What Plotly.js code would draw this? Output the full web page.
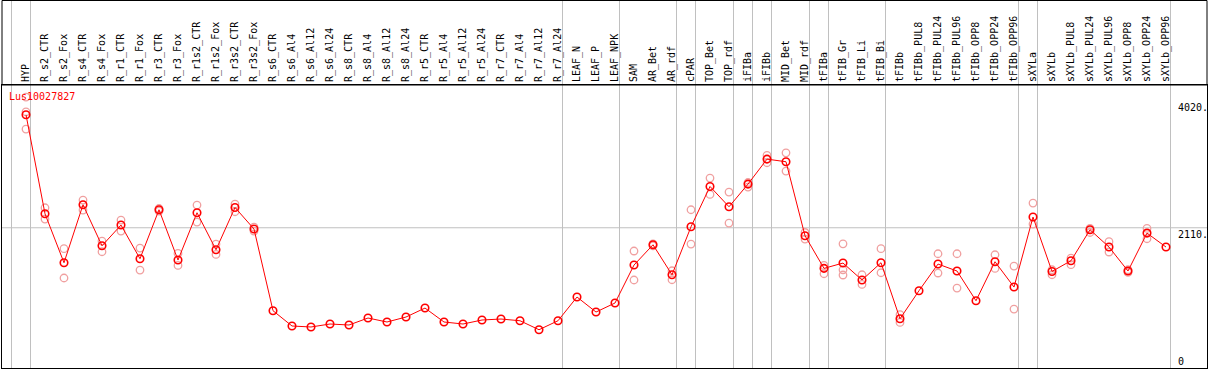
<!DOCTYPE html>
<html>
<head>
<meta charset="utf-8">
<script src="https://cdn.plot.ly/plotly-3.0.1.min.js"></script>
<style>html,body{margin:0;padding:0;background:#fff;}#chart{width:1209px;height:370px;}</style>
</head>
<body>
<div id="chart"></div>
<script>
const categories = ["HYP","R_s2_CTR","R_s2_Fox","R_s4_CTR","R_s4_Fox","R_r1_CTR","R_r1_Fox","R_r3_CTR","R_r3_Fox","R_r1s2_CTR","R_r1s2_Fox","R_r3s2_CTR","R_r3s2_Fox","R_s6_CTR","R_s6_Al4","R_s6_Al12","R_s6_Al24","R_s8_CTR","R_s8_Al4","R_s8_Al12","R_s8_Al24","R_r5_CTR","R_r5_Al4","R_r5_Al12","R_r5_Al24","R_r7_CTR","R_r7_Al4","R_r7_Al12","R_r7_Al24","LEAF_N","LEAF_P","LEAF_NPK","SAM","AR_Bet","AR_rdf","cPAR","TOP_Bet","TOP_rdf","iFIBa","iFIBb","MID_Bet","MID_rdf","tFIBa","tFIB_Gr","tFIB_Li","tFIB_Bi","tFIBb","tFIBb_PUL8","tFIBb_PUL24","tFIBb_PUL96","tFIBb_OPP8","tFIBb_OPP24","tFIBb_OPP96","sXYLa","sXYLb","sXYLb_PUL8","sXYLb_PUL24","sXYLb_PUL96","sXYLb_OPP8","sXYLb_OPP24","sXYLb_OPP96"];

const meanValues = [3810,2320,1584,2456,1839,2151,1644,2381,1624,2336,1779,2415,2091,862,632,617,662,647,752,692,767,902,692,662,722,737,711,576,711,1068,842,978,1549,1854,1403,2125,2731,2426,2767,3143,3103,1990,1499,1579,1324,1584,741,1163,1564,1459,1012,1599,1218,2271,1453,1614,2080,1820,1459,2030,1820];

const rep1 = [4076,2411,1795,2527,1910,2226,1805,2400,1724,2452,1865,2467,2121,null,null,null,null,null,null,null,null,null,null,null,null,null,null,null,null,null,null,null,1760,1869,1463,2381,2858,2647,2791,3198,3238,2039,1543,1869,1403,1795,802,null,1719,1719,null,1704,1534,2482,1478,1654,2100,1900,1478,2100,null];
const rep2 = [3855,2241,1354,2376,1749,2060,1474,2361,1543,2196,1709,2351,2060,null,null,null,null,null,null,null,null,null,null,null,null,null,null,null,null,null,null,null,1324,1839,1328,1865,2611,2181,2722,3088,2963,1940,1418,1478,1257,1433,686,null,1429,1203,null,1498,887,2166,1403,1554,2039,1745,1438,1945,null];
const rep3 = [3595,null,null,null,null,null,null,null,null,null,null,null,null,null,null,null,null,null,null,null,null,null,null,null,null,null,null,null,null,null,null,null,null,null,null,null,null,null,null,null,null,null,null,1399,null,null,null,null,null,null,null,null,null,null,null,null,null,null,null,null,null];

const groupBreaks = [0,1,29,32,35,36,38,39,40,42,43,46,53,54,61];
const yTickVals = [4020,2110,0];
const yTickText = ["4020.","2110.","0"];
const seriesName = "Lus10027827";

const xs = categories.map((c,i)=>i);
const mono = "DejaVu Sans Mono, Liberation Mono, monospace";

const repColor = "#f0a0a0";
const traces = [];
[rep1,rep2,rep3].forEach(r=>{
  traces.push({x:xs,y:r,type:"scatter",mode:"markers",hoverinfo:"skip",showlegend:false,
    marker:{symbol:"circle-open",size:7.5,color:repColor,line:{color:repColor,width:1.3}}});
});
traces.push({x:xs,y:meanValues,type:"scatter",mode:"lines+markers",showlegend:false,
  line:{color:"#ff0000",width:1},
  marker:{symbol:"circle-open",size:7.5,color:"#ff0000",line:{color:"#ff0000",width:1.6}}});

const topPaper = 1 + 84.5/283;
const shapes = groupBreaks.map(b=>({type:"line",xref:"x",yref:"paper",x0:b-1+0.237,x1:b-1+0.237,y0:0,y1:topPaper,
  line:{color:"#c0c0c0",width:1},layer:"below"}));
shapes.push({type:"line",xref:"paper",yref:"y",x0:0,x1:1,y0:2110,y1:2110,line:{color:"#c0c0c0",width:1},layer:"below"});
shapes.push({type:"rect",xref:"paper",yref:"paper",x0:0,x1:1,y0:1,y1:topPaper,line:{color:"#000",width:1}});

const annotations = yTickVals.map((v,i)=>({xref:"paper",yref:"y",x:(1177-2)/1205,y:v,text:yTickText[i],showarrow:false,
  xanchor:"left",yanchor: v===0 ? "bottom":"top",font:{family:mono,size:10,color:"#000"},borderpad:0}));
annotations.push({xref:"paper",yref:"paper",x:(8-2)/1205,y:1,yshift:-5,text:seriesName,showarrow:false,xanchor:"left",yanchor:"top",
  font:{family:mono,size:10,color:"#ff0000"},borderpad:0});

const layout = {
  width:1209,height:370,
  margin:{l:2,r:2,t:85,b:2,pad:0},
  paper_bgcolor:"#fff",plot_bgcolor:"#fff",
  showlegend:false,
  xaxis:{type:"linear",range:[(2-26)/19,(1207-26)/19],side:"top",tickmode:"array",tickvals:xs,ticktext:categories,
    tickangle:-90,tickfont:{family:mono,size:10,color:"#000"},ticks:"",showgrid:false,zeroline:false,
    showline:true,mirror:true,linecolor:"#000",linewidth:1,fixedrange:true},
  yaxis:{range:[0,4258],showticklabels:false,ticks:"",showgrid:false,zeroline:false,
    showline:true,mirror:true,linecolor:"#000",linewidth:1,fixedrange:true},
  shapes:shapes,
  annotations:annotations
};
Plotly.newPlot("chart",traces,layout,{displayModeBar:false,staticPlot:true});
</script>
</body>
</html>
